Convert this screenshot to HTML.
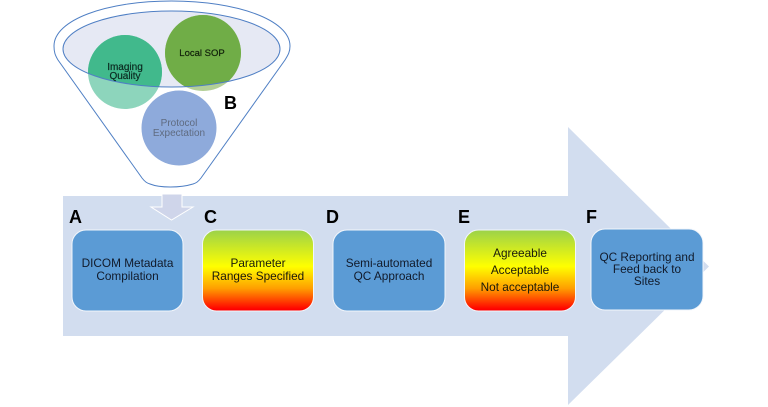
<!DOCTYPE html>
<html><head><meta charset="utf-8"><style>
html,body{margin:0;padding:0;background:#fff;width:768px;height:407px;overflow:hidden}
svg{display:block}
text{font-family:"Liberation Sans",Arial,sans-serif;text-anchor:middle;fill:#111a2a}
.t{font-size:11.8px}
.l{font-size:18px;font-weight:bold;fill:#000;text-anchor:start}
</style></head><body>
<svg width="768" height="407" viewBox="0 0 768 407" xmlns="http://www.w3.org/2000/svg">
<defs>
<linearGradient id="g" x1="0" y1="0" x2="0" y2="1">
<stop offset="0" stop-color="#9bd24a"/><stop offset=".45" stop-color="#ffff00"/><stop offset=".72" stop-color="#ff9f00"/><stop offset=".98" stop-color="#ff0000"/>
</linearGradient>
<clipPath id="rim"><ellipse cx="171.5" cy="49" rx="108.5" ry="38"/></clipPath>
</defs>
<polygon points="63,196 568,196 568,127 709,266.5 568,405 568,336 63,336" fill="#d2ddef"/>
<path d="M54,46 C54,20 106,1 171.5,1 C237,1 290,20 290,46 C290,52 288,55 285,60 L201,178 C198,182 196,183 193,184 C180,188 160,188 150,184 C147,183 145,182 142,178 L58,60 C55,55 54,52 54,46 Z" fill="#fff" stroke="#4f7fc4" stroke-width="1"/>
<ellipse cx="171.5" cy="49" rx="108.5" ry="38" fill="#e6e9f4"/>
<circle cx="125" cy="72" r="37" fill="#8dd5bc"/>
<circle cx="203" cy="53" r="38" fill="#b3cf96"/>
<circle cx="179" cy="128" r="37.5" fill="#8eaadb"/>
<g clip-path="url(#rim)">
<circle cx="125" cy="72" r="37" fill="#41b98c"/>
<circle cx="203" cy="53" r="38" fill="#70ad47"/>
</g>
<ellipse cx="171.5" cy="49" rx="108.5" ry="38" fill="none" stroke="#4f7fc4" stroke-width="1"/>
<polygon points="162,194 182,194 182,207 193,207 171.5,220 151,207 162,207" fill="#cfd5ea" stroke="#fff" stroke-width="1"/>
<g stroke="#f2f6fb" stroke-width="1">
<rect x="72" y="230" width="111" height="81" rx="14" fill="#5b9bd5"/>
<rect x="202.5" y="230" width="111" height="81" rx="14" fill="url(#g)"/>
<rect x="333" y="230" width="112" height="81" rx="14" fill="#5b9bd5"/>
<rect x="464.5" y="230" width="111" height="81" rx="14" fill="url(#g)"/>
<rect x="591" y="229" width="112" height="81" rx="14" fill="#5b9bd5"/>
</g>
<text class="t" x="127.5" y="267">DICOM Metadata</text>
<text class="t" x="127.5" y="280">Compilation</text>
<text class="t" x="258" y="267" style="fill:#1a1a0a">Parameter</text>
<text class="t" x="258" y="280" style="fill:#1a1a0a">Ranges Specified</text>
<text class="t" x="389" y="267">Semi-automated</text>
<text class="t" x="389" y="280">QC Approach</text>
<text class="t" x="520" y="257" style="fill:#1a1a0a">Agreeable</text>
<text class="t" x="520" y="274" style="fill:#1a1a0a">Acceptable</text>
<text class="t" x="520" y="291" style="fill:#1a1a0a">Not acceptable</text>
<text class="t" x="647" y="261">QC Reporting and</text>
<text class="t" x="647" y="273">Feed back to</text>
<text class="t" x="647" y="285">Sites</text>
<text x="202" y="56" style="font-size:9.5px;fill:#10200a;stroke:#10200a;stroke-width:.2">Local SOP</text>
<text x="125" y="70" style="font-size:10px;fill:#0b2a20;stroke:#0b2a20;stroke-width:.2">Imaging</text>
<text x="125" y="79" style="font-size:10px;fill:#0b2a20;stroke:#0b2a20;stroke-width:.2">Quality</text>
<text x="179" y="126" style="font-size:10px;fill:#5f6b80">Protocol</text>
<text x="179" y="136" style="font-size:10px;fill:#5f6b80">Expectation</text>
<text class="l" x="224" y="109">B</text>
<text class="l" x="69" y="223">A</text>
<text class="l" x="204" y="223">C</text>
<text class="l" x="326" y="223">D</text>
<text class="l" x="458" y="223">E</text>
<text class="l" x="586" y="223">F</text>
</svg>
</body></html>
